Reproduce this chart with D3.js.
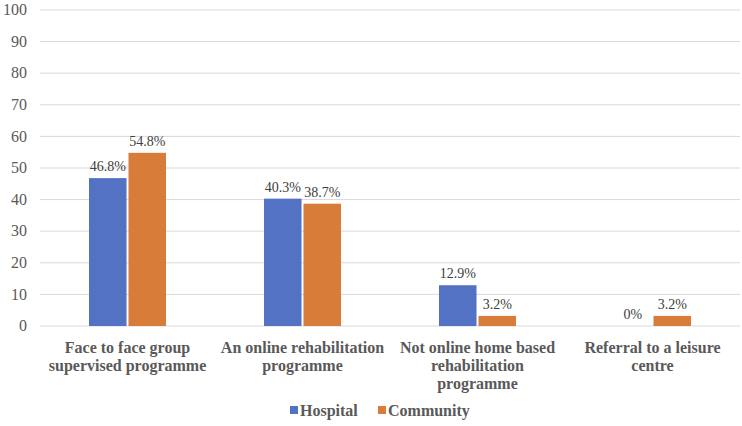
<!DOCTYPE html>
<html><head><meta charset="utf-8">
<script src="https://cdn.jsdelivr.net/npm/d3@7"></script>
</head><body style="margin:0;background:#fff">
<svg id="c" width="742" height="426" font-family="Liberation Serif" style="display:block;font-family:'Liberation Serif','Times New Roman',Tinos,Times,serif"></svg>
<script>
const categories = [
  ["Face to face group", "supervised programme"],
  ["An online rehabilitation", "programme"],
  ["Not online home based", "rehabilitation", "programme"],
  ["Referral to a leisure", "centre"]
];
const seriesNames = ["Hospital", "Community"];
const hospital = [46.8, 40.3, 12.9, 0];
const community = [54.8, 38.7, 3.2, 3.2];
const labelsHospital = ["46.8%", "40.3%", "12.9%", "0%"];
const labelsCommunity = ["54.8%", "38.7%", "3.2%", "3.2%"];
const yTicks = [0,10,20,30,40,50,60,70,80,90,100];
const colors = ["#5472C4", "#D77D39"];

const fam = "Liberation Serif";
const svg = d3.select("#c");
const m = {l: 40, r: 2, t: 10, b: 100};
const W = 742, H = 426;
const x0 = d3.scaleBand().domain(d3.range(categories.length)).range([m.l, W - m.r]);
const x1 = d3.scaleBand().domain([0,1]).range([x0.bandwidth()/2 - 38.5, x0.bandwidth()/2 + 38.5]).paddingInner(0.05);
const y = d3.scaleLinear().domain([0,100]).range([H - m.b, m.t]);

svg.append("g").selectAll("line").data(yTicks).join("line")
  .attr("x1", m.l).attr("x2", W - m.r)
  .attr("y1", d => y(d)).attr("y2", d => y(d))
  .attr("stroke", "#d9d9d9").attr("stroke-width", 1);

svg.append("g").selectAll("text").data(yTicks).join("text")
  .attr("x", m.l - 13).attr("y", d => y(d)).attr("dy", "0.32em")
  .attr("text-anchor", "end")
  .style("font-family", `"${fam}"`).attr("font-size", 16).attr("fill", "#595959")
  .text(d => d);

const data = [hospital, community];
const labs = [labelsHospital, labelsCommunity];
const g = svg.append("g");
categories.forEach((c, i) => {
  [0,1].forEach(s => {
    const v = data[s][i];
    const bx = x0(i) + x1(s);
    g.append("rect").attr("x", bx).attr("y", y(v))
      .attr("width", x1.bandwidth()).attr("height", y(0) - y(v))
      .attr("fill", colors[s]);
    g.append("text").attr("x", bx + x1.bandwidth()/2).attr("y", y(v) - 7)
      .attr("text-anchor", "middle").style("font-family", `"${fam}"`).attr("font-size", 14)
      .attr("fill", "#404040").text(labs[s][i]);
  });
  c.forEach((line, k) => {
    g.append("text").attr("text-anchor", "middle")
      .style("font-family", `"${fam}"`).attr("font-size", 16).attr("font-weight", "bold").attr("fill", "#595959")
      .attr("x", x0(i) + x0.bandwidth()/2).attr("y", y(0) + 27 + k*18).text(line);
  });
});

const items = [{n: seriesNames[0], x: 290}, {n: seriesNames[1], x: 378}];
items.forEach((it, i) => {
  svg.append("rect").attr("x", it.x).attr("y", 406).attr("width", 8).attr("height", 8).attr("fill", colors[i]);
  svg.append("text").attr("x", it.x + 10).attr("y", 416)
    .style("font-family", `"${fam}"`).attr("font-size", 16).attr("font-weight", "bold").attr("fill", "#595959").text(it.n);
});
</script>
</body></html>
